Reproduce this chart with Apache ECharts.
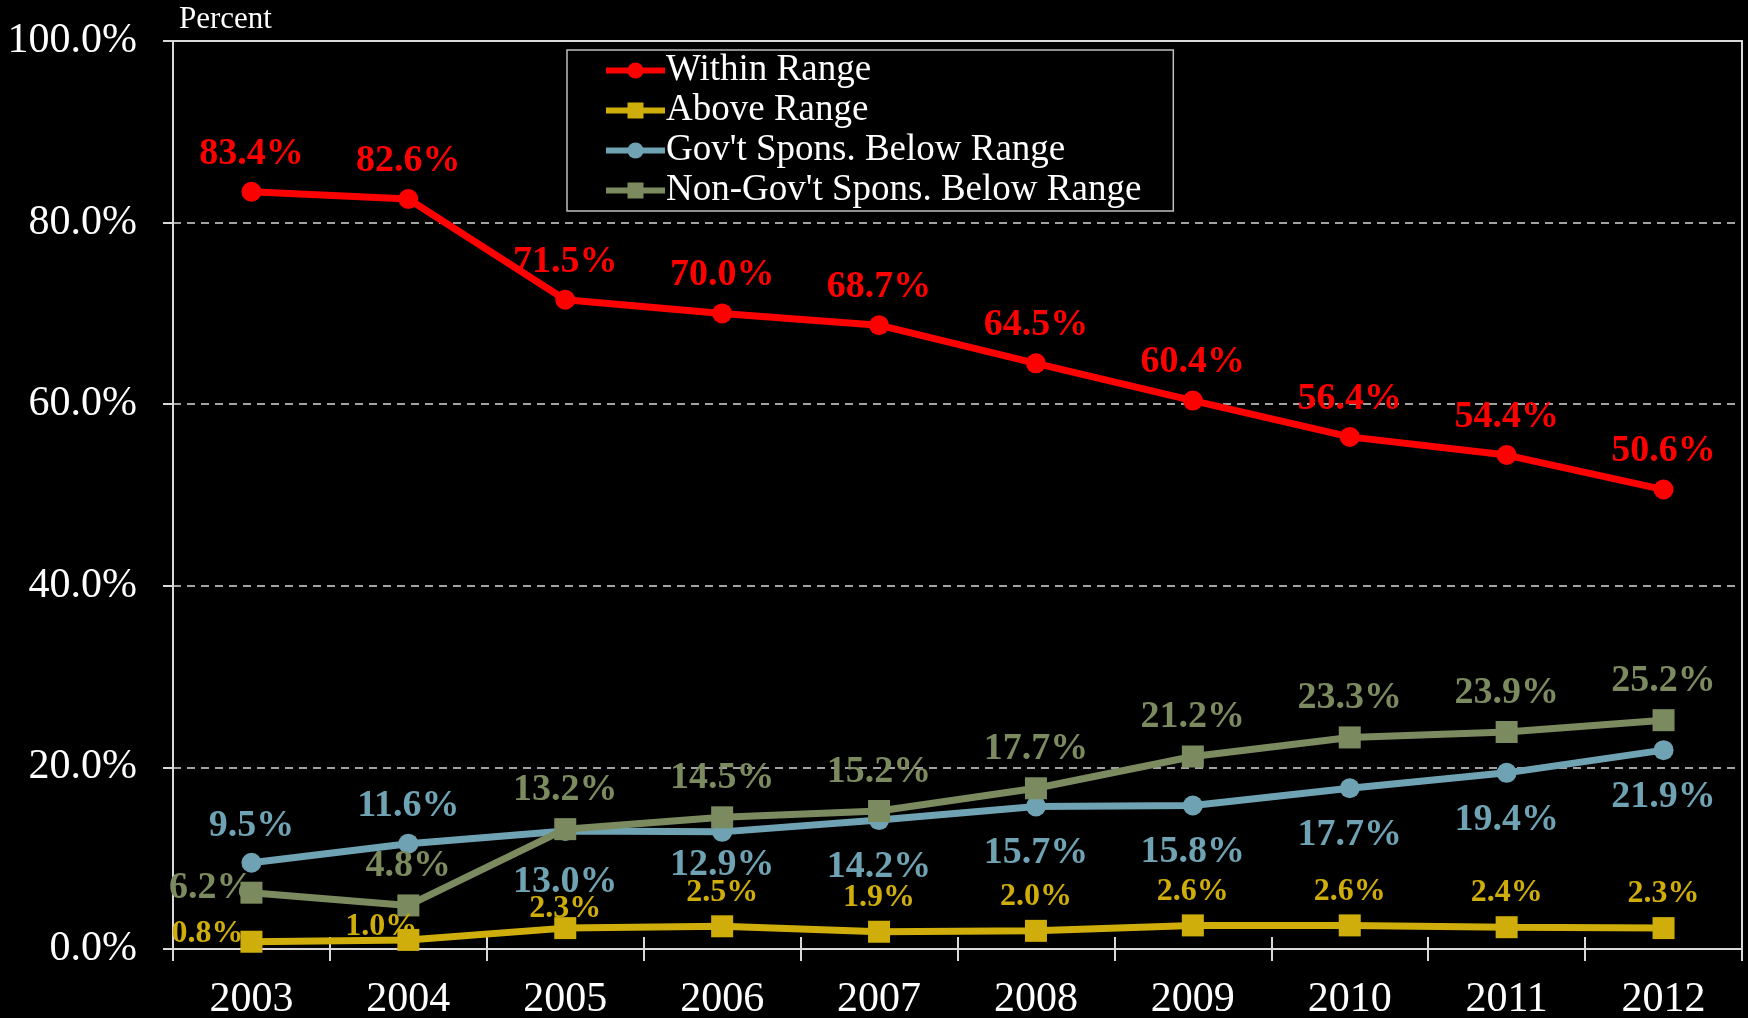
<!DOCTYPE html>
<html>
<head>
<meta charset="utf-8">
<script src="https://cdn.jsdelivr.net/npm/echarts@6/dist/echarts.min.js"></script>
<style>
  html, body { margin: 0; padding: 0; background: #000; }
  #chart { width: 1748px; height: 1018px; }
</style>
</head>
<body>
<div id="chart"></div>
<script>
// data
var years = ["2003", "2004", "2005", "2006", "2007", "2008", "2009", "2010", "2011", "2012"];
var withinRange = [83.4, 82.6, 71.5, 70.0, 68.7, 64.5, 60.4, 56.4, 54.4, 50.6];
var aboveRange = [0.8, 1.0, 2.3, 2.5, 1.9, 2.0, 2.6, 2.6, 2.4, 2.3];
var govBelow = [9.5, 11.6, 13.0, 12.9, 14.2, 15.7, 15.8, 17.7, 19.4, 21.9];
var nonGovBelow = [6.2, 4.8, 13.2, 14.5, 15.2, 17.7, 21.2, 23.3, 23.9, 25.2];

var FONT = '"Liberation Serif", "Times New Roman", serif';
var AXIS = "#d9d9d9";

// per-point label placement (default comes from the series)
function withLabels(values, special) {
  return values.map(function (v, i) {
    var item = { value: v };
    if (special[i]) item.label = special[i];
    return item;
  });
}

function labelCfg(color, size, pos, dist) {
  return {
    show: true,
    position: pos,
    distance: dist,
    color: color,
    fontFamily: FONT,
    fontWeight: "bold",
    fontSize: size,
    formatter: function (p) { return p.value.toFixed(1) + "%"; }
  };
}

var chart = echarts.init(document.getElementById("chart"));

chart.setOption({
  backgroundColor: "#000",
  animation: false,
  grid: {
    left: 173, right: 6, top: 41, bottom: 69,
    outerBoundsMode: "none",
    show: true,
    borderColor: AXIS,
    borderWidth: 2
  },
  legend: {
    orient: "vertical",
    left: 567,
    top: 50,
    padding: [2, 32, 2, 36],
    itemGap: 3,
    itemWidth: 59,
    itemHeight: 20,
    borderColor: "#bfbfbf",
    borderWidth: 1.5,
    backgroundColor: "#000",
    lineStyle: { width: 6 },
    textStyle: { color: "#fff", fontFamily: FONT, fontSize: 37, lineHeight: 37, padding: [0, 0, 0, -4] },
    data: ["Within Range", "Above Range", "Gov't Spons. Below Range", "Non-Gov't Spons. Below Range"]
  },
  xAxis: [
    {
      type: "category",
      data: years,
      boundaryGap: true,
      axisLine: { lineStyle: { color: AXIS, width: 2 } },
      axisTick: { show: true, length: 12, lineStyle: { color: AXIS, width: 2 } },
      axisLabel: { color: "#fff", fontFamily: FONT, fontSize: 42, margin: 30 }
    },
    {
      // second copy only for the tick marks that stick up above the axis
      type: "category",
      data: years,
      position: "bottom",
      boundaryGap: true,
      axisLine: { show: false },
      axisTick: { show: true, inside: true, length: 12, lineStyle: { color: AXIS, width: 2 } },
      axisLabel: { show: false }
    }
  ],
  yAxis: {
    type: "value",
    min: 0,
    max: 100,
    interval: 20,
    name: "Percent",
    nameLocation: "end",
    nameGap: 6,
    nameTextStyle: { color: "#fff", fontFamily: FONT, fontSize: 31, align: "left", padding: [0, 0, 0, 6] },
    axisLine: { show: true, lineStyle: { color: AXIS, width: 2 } },
    axisTick: { show: true, length: 10, lineStyle: { color: AXIS, width: 2 } },
    axisLabel: {
      color: "#fff", fontFamily: FONT, fontSize: 42, margin: 36,
      formatter: function (v) { return v.toFixed(1) + "%"; }
    },
    splitLine: { show: true, lineStyle: { color: AXIS, type: [8, 6], width: 1.5 } }
  },
  series: [
    {
      name: "Within Range",
      type: "line",
      data: withinRange,
      symbol: "circle",
      symbolSize: 20,
      itemStyle: { color: "#ff0000" },
      lineStyle: { color: "#ff0000", width: 7 },
      label: labelCfg("#ff0000", 38, "top", 9),
      z: 5
    },
    {
      name: "Above Range",
      type: "line",
      data: withLabels(aboveRange, {
        0: { position: "left", distance: -3, offset: [0, -8] },
        1: { position: "top", distance: -14, offset: [-27, 0] },
        2: { position: "top", distance: -8 }
      }),
      symbol: "rect",
      symbolSize: 22,
      itemStyle: { color: "#cfae0b" },
      lineStyle: { color: "#cfae0b", width: 7 },
      label: labelCfg("#cfae0b", 32, "top", 7),
      z: 4
    },
    {
      name: "Gov't Spons. Below Range",
      type: "line",
      data: withLabels(govBelow, {
        0: { position: "top", distance: 8 },
        1: { position: "top", distance: 8 },
        2: { position: "bottom", distance: 22 },
        3: { position: "bottom", distance: 4 }
      }),
      symbol: "circle",
      symbolSize: 20,
      itemStyle: { color: "#6fa3b4" },
      lineStyle: { color: "#6fa3b4", width: 7 },
      label: labelCfg("#6fa3b4", 38, "bottom", 18),
      z: 3
    },
    {
      name: "Non-Gov't Spons. Below Range",
      type: "line",
      data: withLabels(nonGovBelow, {
        0: { position: "left", distance: -14, offset: [0, -5] }
      }),
      symbol: "rect",
      symbolSize: 22,
      itemStyle: { color: "#7b8b5f" },
      lineStyle: { color: "#7b8b5f", width: 7 },
      label: labelCfg("#7b8b5f", 38, "top", 9),
      z: 4
    }
  ]
});
</script>
</body>
</html>
